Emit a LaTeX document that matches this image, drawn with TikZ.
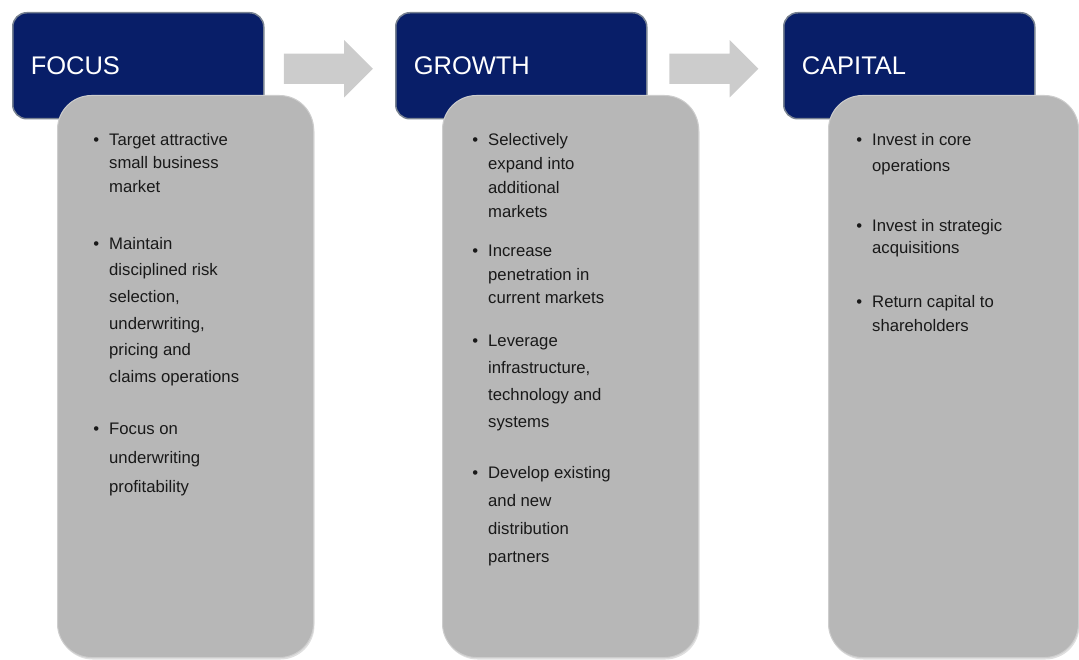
\documentclass[tikz,border=0pt]{standalone}
\usepackage{fontspec}
\setmainfont{Liberation Sans}
\usepackage{tikz}
\usetikzlibrary{positioning}
\usetikzlibrary{calc,shadows}
\usetikzlibrary{shapes.arrows}
\definecolor{navy}{RGB}{8,30,104}
\definecolor{headrim}{RGB}{120,130,145}
\definecolor{cardgray}{RGB}{183,183,183}
\definecolor{cardrim}{RGB}{205,205,205}
\definecolor{arrowgray}{RGB}{204,204,204}
\definecolor{inkgray}{RGB}{25,25,25}
\newcommand{\bul}{\llap{\textbullet\hspace{10pt}}}
\tikzset{head/.style={draw=headrim,line width=1.5pt,fill=navy,rounded corners=14pt,minimum height=106pt,anchor=north west,text width=215pt,inner xsep=18pt,align=left,text=white,font=\fontsize{25.5}{30}\selectfont},
	card/.style={fill=cardgray,draw=cardrim,line width=1pt,rounded corners=34pt,minimum width=256pt,minimum height=562pt,anchor=north west,drop shadow={opacity=0.25,shadow xshift=1pt,shadow yshift=-2pt}},
	items/.style={anchor=north west,inner sep=0pt,align=left,text=inkgray,font=\fontsize{16.7}{#1}\selectfont},
	bigarrow/.style={single arrow,fill=arrowgray,minimum height=89pt,minimum width=57pt,text height=15pt,text depth=15pt,single arrow head extend=13.5pt,inner sep=0pt,xshift=-9pt,yshift=-3pt}}

\begin{document}
\begin{tikzpicture}[x=1pt,y=-1pt]
	\useasboundingbox (0,0) rectangle (1079,660);
	\node[head] (focus) at (12,12) {FOCUS}; \node[head] (growth) at (395,12) {GROWTH}; \node[head] (capital) at (783,12) {CAPITAL};
	\node[bigarrow] (a1) at ($(focus.east)!0.5!(growth.west)$) {}; \node[bigarrow] (a2) at ($(growth.east)!0.5!(capital.west)$) {};
	% focus
	\node[card] (cf) at (57,95) {};
	\node[items=23.5pt] (f1) at (109,133) {\bul Target attractive\\small business\\market};
	\node[items=26.6pt] (f2) at (109,237) {\bul Maintain\\disciplined risk\\selection,\\underwriting,\\pricing and\\claims operations};
	\node[items=29pt] (f3) at (109,423) {\bul Focus on\\underwriting\\profitability};
	% growth
	\node[card] (cg) at (442,95) {};
	\node[items=24pt] (g1) at (488,133) {\bul Selectively\\expand into\\additional\\markets};
	\node[items=23.5pt] (g2) at (488,245) {\bul Increase\\penetration in\\current markets};
	\node[items=27pt] (g3) at (488,335) {\bul Leverage\\infrastructure,\\technology and\\systems};
	\node[items=28pt] (g4) at (488,466) {\bul Develop existing\\and new\\distribution\\partners};
	% capital
	\node[card,minimum width=250pt] (cc) at (828,95) {};
	\node[items=26pt] (k1) at (872,133) {\bul Invest in core\\operations};
	\node[items=22pt] (k2) at (872,219) {\bul Invest in strategic\\acquisitions};
	\node[items=24pt] (k3) at (872,295) {\bul Return capital to\\shareholders};
\end{tikzpicture}
\end{document}
